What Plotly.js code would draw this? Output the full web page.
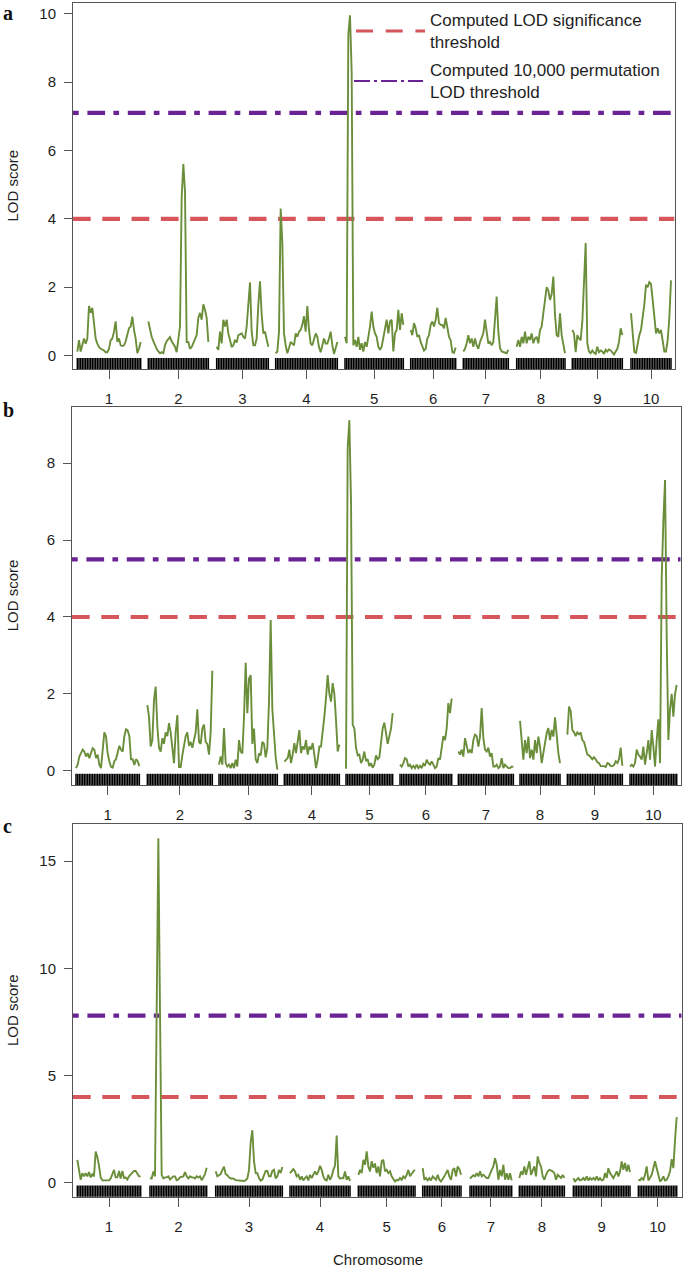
<!DOCTYPE html>
<html>
<head>
<meta charset="utf-8">
<script src="https://cdn.plot.ly/plotly-3.0.1.min.js"></script>
<style>html,body{margin:0;padding:0;background:#fff;}</style>
</head>
<body>
<div id="chart" style="width:685px;height:1268px;"></div>
<script>
// ---------------- DATA ----------------
const chromosomes = ['1','2','3','4','5','6','7','8','9','10'];
const stepCM = 5; // scan step (cM)

// panel a: chromosome start positions (cumulative cM) and LOD profiles
const startA = [0, 213, 418, 595, 803, 1000, 1158, 1318, 1485, 1661];
const lodA1 = [.12,.45,.12,.35,.5,.35,.5,1.45,1.25,1.4,.85,.5,.35,.25,.2,.18,.15,.1,.1,.2,.45,.5,.7,1.0,.4,.5,.3,.28,.3,.42,.6,.8,.85,1.14,.75,.5,.07,.2,.4];
const lodA2 = [1.0,.75,.55,.42,.3,.2,.12,.07,.1,.07,.3,.42,.48,.54,.42,.35,.26,.1,.5,.85,4.6,5.6,4.8,.4,.4,.2,.25,.36,.45,.6,1.1,1.25,1.05,1.5,1.34,1.1,.4];
const lodA3 = [.26,.17,.7,.36,1.05,.85,1.05,.65,.46,.25,.3,.46,.38,.6,.62,.65,.55,.5,.85,1.6,2.14,.7,.3,.3,.5,1.5,2.17,1.2,.65,.7,.46,.26];
const lodA4 = [.07,.12,.7,4.3,3.3,.65,.3,.07,.22,.4,.35,.3,.65,.55,.7,.75,.9,1.15,.7,1.45,.75,.35,.3,.5,.65,.55,.25,.1,.35,.5,.35,.35,.5,.7,.3,.05,.22,.4];
const lodA5 = [.55,.36,9.4,9.95,8.3,.3,.46,.26,.55,.17,.36,.12,.4,.26,.55,.85,1.29,.85,.65,.55,.26,.17,.26,.55,.85,1.05,.65,1.0,1.05,.12,.65,.75,1.34,.75,1.24,.9];
const lodA6 = [.75,.6,.95,.8,.55,.6,.4,.25,.15,.2,.5,.6,.9,1.0,.85,1.05,1.4,.95,.9,.9,.8,1.1,.75,.55,.45,.1,.08,.24];
const lodA7 = [.12,.2,.36,.6,.36,.5,.26,.5,.3,.2,.4,.55,.65,1.05,.6,.35,.4,.3,.4,1.2,1.73,.7,.22,.12,.1,.1,.07,.17];
const lodA8 = [.26,.46,.26,.55,.36,.7,.36,.55,.46,.65,.36,.5,.55,.36,.75,.85,1.24,1.63,2.0,1.9,1.63,1.8,2.31,1.2,.6,.55,1.24,.6,.3,.07];
const lodA9 = [.75,.65,.1,.6,.5,.45,1.0,2.4,3.29,.36,.12,.07,.15,.08,.05,.26,.1,.15,.12,.05,.17,.12,.18,.15,.07,.03,.12,.2,.4,.8,.6];
const lodA10 = [1.24,.55,.1,.08,.35,.6,.75,1.1,1.5,2.07,2.0,2.15,2.1,1.63,1.05,.65,.8,.65,.75,.35,.12,.12,.45,1.1,2.2];
const thresholdsA = [4.0, 7.1]; // [LOD significance, 10,000 permutation]

// panel b
const startB = [0, 214, 429, 625, 810, 972, 1147, 1332, 1474, 1662];
const lodB1 = [.07,.16,.37,.46,.55,.5,.37,.46,.33,.46,.59,.55,.33,.42,.16,.07,.6,1.0,.9,.45,.25,.1,.08,.25,.3,.45,.65,.55,.5,.9,1.08,1.05,.9,.3,.3,.15,.3,.25,.12];
const lodB2 = [1.71,1.41,.63,.8,1.84,2.19,1.15,.6,.5,.85,.7,1.0,.9,1.24,1.0,.5,.2,1.0,1.45,.1,.1,.4,.7,.9,1.0,.65,.75,.6,.8,1.0,1.6,.75,.7,1.1,1.2,.75,.7,.42,1.0,2.6];
const lodB3 = [.16,.37,.16,1.11,.2,.11,.16,.07,.2,.07,.29,.11,.8,.5,.45,1.4,2.81,1.5,2.4,2.49,.7,1.1,.3,.2,.45,.4,.75,.7,.35,.6,1.8,3.92,1.6,.85,.35,.03];
const lodB4 = [.24,.29,.33,.55,.2,.42,.72,.46,.8,1.06,.46,.63,.55,.8,.42,.63,.55,.72,.42,.07,.29,.63,.63,.98,1.41,1.89,2.49,2.0,1.8,2.28,2.0,1.32,.5,.68];
const lodB5 = [.05,8.4,9.12,7.0,1.2,1.1,.6,.4,.42,.2,.29,.5,.25,.3,.12,.2,.08,.16,.4,.3,.35,.7,1.1,1.25,1.0,.7,.9,1.1,1.5];
const lodB6 = [.16,.11,.2,.33,.3,.11,.16,.07,.13,.07,.16,.07,.13,.07,.18,.13,.29,.2,.16,.24,.16,.07,.11,.33,.29,.63,.9,.8,1.1,1.76,1.5,1.88];
const lodB7 = [.5,.42,.55,.37,.85,.6,.46,.55,.46,.8,.94,.9,.63,.89,1.63,.85,.55,.5,.6,.37,.46,.11,.11,.16,.07,.11,.33,.07,.16,.11,.07,.07,.11,.1];
const lodB8 = [1.3,.7,.29,.8,.46,.89,.33,.55,.29,.8,.46,.89,.63,.2,.46,.72,.98,1.11,.8,1.06,.89,1.39,.8,.46,.2];
const lodB9 = [.94,1.67,1.55,1.06,1.0,.9,1.0,.95,1.0,.8,.75,.55,.42,.4,.35,.3,.35,.3,.22,.2,.12,.12,.12,.1,.2,.18,.12,.12,.15,.25,.2,.3,.6,.13];
const lodB10 = [.11,.16,.11,.2,.55,.42,.37,.29,.63,.16,.46,.8,.29,1.06,.63,.11,.8,1.34,.2,5.0,6.5,7.56,3.5,.8,1.6,2.0,1.41,2.0,2.23];
const thresholdsB = [4.0, 5.5];

// panel c
const startC = [0, 218, 415, 638, 843, 1036, 1178, 1326, 1488, 1683];
const lodC1 = [1.07,.6,.14,.45,.3,.45,.3,.5,.25,.4,.3,1.46,1.2,.8,.25,.11,.11,.11,.11,.11,.2,.4,.6,.25,.25,.55,.2,.55,.22,.25,.15,.3,.4,.5,.55,.55,.45,.3,.3];
const lodC2 = [.22,.2,.53,.3,8.0,16.07,8.0,.37,.2,.25,.25,.3,.15,.25,.3,.3,.12,.15,.25,.28,.3,.5,.3,.2,.3,.25,.25,.2,.3,.25,.3,.12,.25,.4,.7];
const lodC3 = [.53,.3,.35,.4,.6,.75,.4,.35,.25,.2,.2,.18,.12,.11,.12,.12,.1,.08,.12,.2,.6,1.9,2.45,1.0,.45,.45,.22,.1,.15,.35,.55,.55,.3,.3,.55,.6,.2,.3,.6,.45,.73];
const lodC4 = [.45,.53,.64,.53,.3,.37,.14,.3,.11,.22,.3,.11,.37,.22,.37,.53,.37,.53,.79,.6,.3,.14,.11,.37,.14,.3,.6,.8,2.2,.3,.2,.2,.22,.53,.14,.3,.08];
const lodC5 = [.37,.6,.45,1.07,.84,1.46,.76,.53,1.0,.7,.9,.45,.76,.3,1.0,1.07,.53,.6,.45,.53,.3,.14,.06,.14,.11,.22,.14,.3,.22,.37,.6,.3,.45,.53,.6];
const lodC6 = [.68,.14,.22,.11,.22,.11,.3,.22,.14,.37,.14,.06,.22,.3,.45,.6,.3,.14,.6,.68,.3,.76,.64,.37];
const lodC7 = [.2,.3,.35,.3,.45,.3,.53,.3,.37,.3,.22,.22,.45,.6,.76,1.15,.84,.14,.6,.3,.84,.14,.45,.14,.45,.11];
const lodC8 = [.22,.53,.37,.76,.37,.68,1.0,.37,.6,.76,.3,1.23,.92,.76,.3,.14,.37,.53,.6,.56,.53,.45,.14,.37,.3,.22,.37,.22];
const lodC9 = [.22,.06,.14,.22,.11,.14,.22,.11,.3,.11,.22,.14,.22,.14,.3,.11,.22,.11,.14,.45,.22,.68,.45,.3,.22,.37,.53,.3,.53,1.0,.6,.92,.53,.84,.5];
const lodC10 = [.14,.11,.22,.14,.37,.76,.11,.22,.37,.68,1.0,.68,.37,.06,.14,.3,.11,.14,.3,.53,1.1,.68,2.0,3.06];
const thresholdsC = [4.0, 7.8];

const legendLabels = ['Computed LOD significance<br>threshold', 'Computed 10,000 permutation<br>LOD threshold'];

// ---------------- STYLE / LAYOUT ----------------
const W = 685, H = 1268;
const GREEN = '#6b8e3a', RED = '#d6565c', PURPLE = '#6a2395', AXC = '#555555', TXT = '#1e1e1e';
const FONT = 'Liberation Sans, Arial, Helvetica, sans-serif';
const px = v => v / W, py = v => 1 - v / H;

const panels = [
  {starts: startA, lods: [lodA1,lodA2,lodA3,lodA4,lodA5,lodA6,lodA7,lodA8,lodA9,lodA10], thr: thresholdsA,
   xr: [-13, 1791.5], yr: [-0.40, 10.32], yt: [0,2,4,6,8,10], box: [73, 674.5, 2.7, 369.3]},
  {starts: startB, lods: [lodB1,lodB2,lodB3,lodB4,lodB5,lodB6,lodB7,lodB8,lodB9,lodB10], thr: thresholdsB,
   xr: [-12, 1814], yr: [-0.37, 9.47], yt: [0,2,4,6,8], box: [72, 680.7, 406.7, 785]},
  {starts: startC, lods: [lodC1,lodC2,lodC3,lodC4,lodC5,lodC6,lodC7,lodC8,lodC9,lodC10], thr: thresholdsC,
   xr: [-13, 1813], yr: [-0.65, 16.72], yt: [0,5,10,15], box: [73, 681.7, 824.3, 1196.7]}
];
const letterTop = [0, 397, 813];

const traces = [];
const layout = {
  width: W, height: H, autosize: false,
  margin: {l: 0, r: 0, t: 0, b: 0, pad: 0},
  paper_bgcolor: '#fff', plot_bgcolor: '#fff',
  showlegend: false,
  font: {family: FONT, color: TXT, size: 15},
  annotations: [], shapes: []
};

panels.forEach((p, i) => {
  const sfx = i === 0 ? '' : String(i + 1);
  const xa = 'x' + sfx, ya = 'y' + sfx;
  const x = [], y = [], rug = [], mids = [];
  p.lods.forEach((vals, c) => {
    vals.forEach((v, j) => { const pos = p.starts[c] + j * stepCM; x.push(pos); y.push(v); rug.push(pos); });
    x.push(null); y.push(null);
    mids.push(p.starts[c] + (vals.length - 1) * stepCM / 2);
  });
  // threshold lines
  traces.push({type: 'scatter', mode: 'lines', xaxis: xa, yaxis: ya, hoverinfo: 'skip',
    x: [p.xr[0], p.xr[1]], y: [p.thr[0], p.thr[0]],
    line: {color: RED, width: 4.2, dash: '17.7px,11.6px'}});
  traces.push({type: 'scatter', mode: 'lines', xaxis: xa, yaxis: ya, hoverinfo: 'skip',
    x: [p.xr[0], p.xr[1]], y: [p.thr[1], p.thr[1]],
    line: {color: PURPLE, width: 4.2, dash: '5.7px,8.7px,17.7px,8.3px'}});
  // rug of marker positions
  traces.push({type: 'scatter', mode: 'markers', xaxis: xa, yaxis: ya, hoverinfo: 'skip',
    x: rug, y: rug.map(() => p.yr[0]),
    marker: {symbol: 'line-ns-open', size: 16, color: '#000', line: {width: 1.5, color: '#000'}}});
  // LOD curve
  traces.push({type: 'scatter', mode: 'lines', xaxis: xa, yaxis: ya, hoverinfo: 'skip',
    x: x, y: y, connectgaps: false, line: {color: GREEN, width: 1.9}});

  const [L, R, T, B] = p.box;
  layout['xaxis' + sfx] = {
    domain: [px(L), px(R)], anchor: ya, range: p.xr, fixedrange: true,
    tickmode: 'array', tickvals: mids, ticktext: chromosomes,
    ticks: 'outside', ticklen: 9, tickwidth: 1, tickcolor: AXC,
    ticklabelstandoff: 7,
    showline: true, mirror: true, linecolor: AXC, linewidth: 1,
    showgrid: false, zeroline: false,
    tickfont: {family: FONT, size: 15, color: TXT}
  };
  layout['yaxis' + sfx] = {
    domain: [py(B), py(T)], anchor: xa, range: p.yr, fixedrange: true,
    tickmode: 'array', tickvals: p.yt, ticktext: p.yt.map(String),
    ticks: 'outside', ticklen: 8, tickwidth: 1, tickcolor: AXC,
    ticklabelstandoff: 5,
    showline: true, mirror: true, linecolor: AXC, linewidth: 1,
    showgrid: false, zeroline: false,
    tickfont: {family: FONT, size: 15, color: TXT}
  };
  // y title
  layout.annotations.push({xref: 'paper', yref: 'paper', x: px(12.5), y: py((T + B) / 2),
    text: 'LOD score', textangle: -90, showarrow: false, xanchor: 'center', yanchor: 'middle',
    font: {family: FONT, size: 15, color: TXT}});
  // panel letter
  layout.annotations.push({xref: 'paper', yref: 'paper', x: px(1), y: py(letterTop[i]),
    text: '<b>' + ['a','b','c'][i] + '</b>', showarrow: false, xanchor: 'left', yanchor: 'top',
    font: {family: 'Liberation Serif, Times New Roman, serif', size: 20, color: '#111'}});
});

// x axis title
layout.annotations.push({xref: 'paper', yref: 'paper', x: px(377.5), y: py(1259),
  text: 'Chromosome', showarrow: false, xanchor: 'center', yanchor: 'middle',
  font: {family: FONT, size: 15, color: TXT}});

// legend (panel a)
layout.shapes.push({type: 'line', xref: 'paper', yref: 'paper', x0: px(356), x1: px(425), y0: py(31), y1: py(31),
  line: {color: RED, width: 3, dash: '17px,12.7px'}});
layout.shapes.push({type: 'line', xref: 'paper', yref: 'paper', x0: px(354), x1: px(423), y0: py(81), y1: py(81),
  line: {color: PURPLE, width: 2.2, dash: '16px,4px,3px,4px'}});
layout.annotations.push({xref: 'paper', yref: 'paper', x: px(428), y: py(9), text: legendLabels[0],
  showarrow: false, xanchor: 'left', yanchor: 'top', align: 'left',
  font: {family: FONT, size: 17, color: TXT}});
layout.annotations.push({xref: 'paper', yref: 'paper', x: px(428), y: py(59), text: legendLabels[1],
  showarrow: false, xanchor: 'left', yanchor: 'top', align: 'left',
  font: {family: FONT, size: 17, color: TXT}});

Plotly.newPlot('chart', traces, layout, {staticPlot: true, displayModeBar: false});
</script>
</body>
</html>
